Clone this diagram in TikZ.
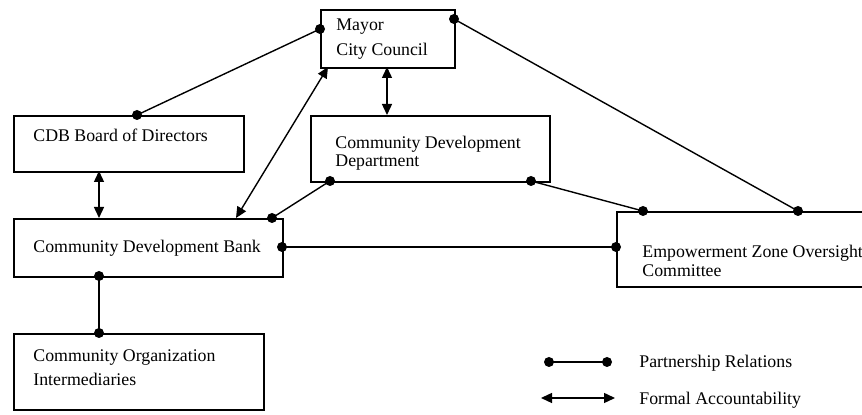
\documentclass[tikz,border=0pt]{standalone}
\usepackage{fontspec}
\setmainfont{Liberation Serif}
\usetikzlibrary{arrows.meta}
\tikzset{
  box/.style={draw, line width=0.9pt, rectangle, inner sep=0pt, anchor=north west},
  lbl/.style={inner sep=0pt, anchor=base west, font=\fontsize{8.9}{11}\selectfont},
  partner/.style={line width=0.7pt},
  account/.style={line width=0.7pt, {Triangle[length=5.5pt,width=5pt]}-{Triangle[length=5.5pt,width=5pt]}},
  dotmark/.style={circle, fill, inner sep=0pt, minimum size=5pt},
}
\begin{document}
\begin{tikzpicture}[x=0.5pt,y=-0.5pt]
\useasboundingbox (0,0) rectangle (862,415);
\clip (0,0) rectangle (862,415);
% boxes
\node[box, minimum width=67pt, minimum height=29pt] (mayor) at (320,9) {};
\node[box, minimum width=115pt, minimum height=28pt] (board) at (13,115) {};
\node[box, minimum width=134.5pt, minimum height=29pt] (bank) at (13,218) {};
\node[box, minimum width=119.5pt, minimum height=33pt] (cdd) at (310,115) {};
\node[box, minimum width=140pt, minimum height=37.5pt] (ezoc) at (616,211) {};
\node[box, minimum width=125pt, minimum height=38pt] (coi) at (13,333) {};
% labels
\node[lbl] (tmayor1) at (336,31) {Mayor};
\node[lbl] (tmayor2) at (336,56) {City Council};
\node[lbl] (tboard) at (33,142) {CDB Board of Directors};
\node[lbl] (tbank) at (33,253) {Community Development Bank};
\node[lbl] (tcdd1) at (335,149) {Community Development};
\node[lbl] (tcdd2) at (335,167) {Department};
\node[lbl] (tezoc1) at (642,258) {Empowerment Zone Oversight};
\node[lbl] (tezoc2) at (642,277) {Committee};
\node[lbl] (tcoi1) at (33,362) {Community Organization};
\node[lbl] (tcoi2) at (33,386) {Intermediaries};
% connector end points
\coordinate (mL) at (320,29);
\coordinate (mR) at (454,19);
\coordinate (mB1) at (387,67);
\coordinate (mB2) at (328,67);
\coordinate (bT) at (137,115);
\coordinate (bB) at (99,171);
\coordinate (kT1) at (99,218);
\coordinate (kT2) at (236,218);
\coordinate (kT3) at (272,218);
\coordinate (kR) at (282,247);
\coordinate (kB) at (99,276);
\coordinate (cT) at (387,115);
\coordinate (cB1) at (330,181);
\coordinate (cB2) at (531,181);
\coordinate (eT1) at (643,211);
\coordinate (eT2) at (798,211);
\coordinate (eL) at (616,247);
\coordinate (oT) at (99,333);
% partnership relations
\draw[partner] (mL) -- (bT);
\draw[partner] (mR) -- (eT2);
\draw[partner] (kT3) -- (cB1);
\draw[partner] (cB2) -- (eT1);
\draw[partner] (kR) -- (eL);
\draw[partner] (kB) -- (oT);
\foreach \p in {mL,mR,bT,kT3,kR,kB,cB1,cB2,eT1,eT2,eL,oT}
  \node[dotmark] at (\p) {};
% formal accountability
\draw[account] (mB1) -- (cT);
\draw[account] (mB2) -- (kT2);
\draw[account] (bB) -- (kT1);
% legend
\coordinate (lp1) at (549,362);
\coordinate (lp2) at (607,362);
\coordinate (la1) at (541,398);
\coordinate (la2) at (615,398);
\draw[partner] (lp1) -- (lp2);
\node[dotmark] at (lp1) {};
\node[dotmark] at (lp2) {};
\draw[account] (la1) -- (la2);
\node[lbl] (tleg1) at (639,368) {Partnership Relations};
\node[lbl] (tleg2) at (639,405) {Formal Accountability};
\end{tikzpicture}
\end{document}
